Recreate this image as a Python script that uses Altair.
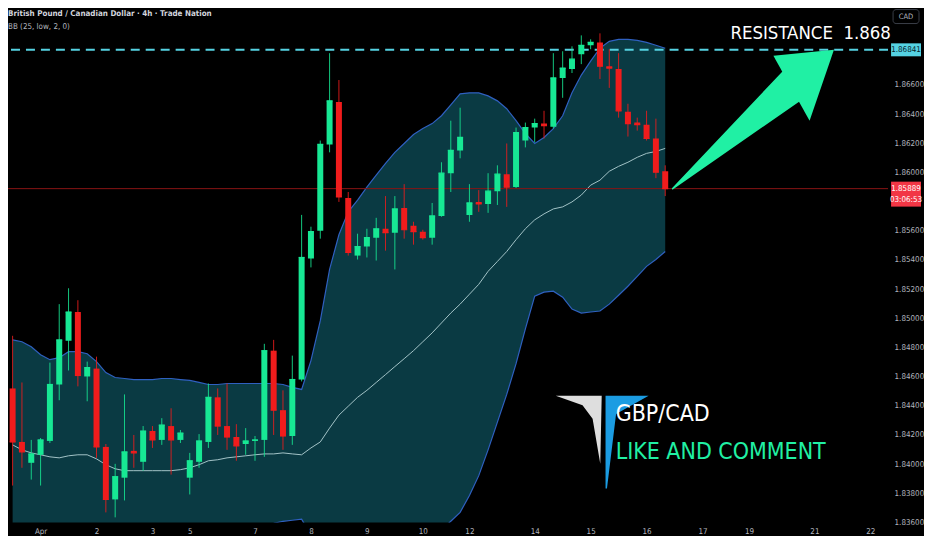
import altair as alt
import pandas as pd

# ---------------- data ----------------
idx = list(range(-3, 68))  # 4h candle number, 0 = first candle of Apr 1
open_ = [1.84519, 1.84152, 1.84009, 1.84064, 1.84159, 1.84546, 1.84846, 1.85043, 1.84601, 1.84655,
         1.84118, 1.83758, 1.83907, 1.84091, 1.84016, 1.84227, 1.84166, 1.84261, 1.84166, 1.83907,
         1.84016, 1.84152, 1.84458, 1.84261, 1.84186, 1.84138, 1.84159, 1.84166, 1.84778, 1.84370,
         1.84193, 1.84580, 1.85410, 1.85600, 1.86192, 1.86484, 1.85825, 1.85430, 1.85492, 1.85553,
         1.85614, 1.85587, 1.85757, 1.85634, 1.85594, 1.85553, 1.85702, 1.85995, 1.86151, 1.85709,
         1.85798, 1.85784, 1.85872, 1.85988, 1.85900, 1.86219, 1.86308, 1.86335, 1.86314, 1.86648,
         1.86709, 1.86811, 1.86872, 1.86892, 1.86729, 1.86709, 1.86416, 1.86342, 1.86328, 1.86233,
         1.86008]
high = [1.84880, 1.84560, 1.84166, 1.84179, 1.84696, 1.85097, 1.85206, 1.85124, 1.84703, 1.84737,
        1.84138, 1.84002, 1.84478, 1.84200, 1.84261, 1.84261, 1.84315, 1.84383, 1.84234, 1.84077,
        1.84206, 1.84553, 1.84519, 1.84553, 1.84274, 1.84247, 1.84193, 1.84825, 1.84852, 1.84506,
        1.84744, 1.85709, 1.85628, 1.86219, 1.86818, 1.86634, 1.85866, 1.85580, 1.85614, 1.85689,
        1.85838, 1.85838, 1.85920, 1.85662, 1.85607, 1.85791, 1.86070, 1.86355, 1.86444, 1.85920,
        1.85879, 1.85995, 1.86049, 1.86199, 1.86308, 1.86342, 1.86369, 1.86423, 1.86818, 1.86831,
        1.86865, 1.86940, 1.86913, 1.86954, 1.86845, 1.86818, 1.86471, 1.86376, 1.86423, 1.86369,
        1.86049]
low = [1.83853, 1.83975, 1.83894, 1.83853, 1.84145, 1.84438, 1.84642, 1.84533, 1.84431, 1.84043,
       1.83669, 1.83635, 1.83751, 1.83975, 1.83955, 1.84111, 1.84132, 1.83928, 1.84145, 1.83792,
       1.83975, 1.84111, 1.84200, 1.84098, 1.84023, 1.84064, 1.84023, 1.84050, 1.84200, 1.84098,
       1.84132, 1.84567, 1.85349, 1.85546, 1.86138, 1.85798, 1.85430, 1.85403, 1.85417, 1.85396,
       1.85464, 1.85335, 1.85546, 1.85505, 1.85539, 1.85505, 1.85696, 1.85866, 1.86097, 1.85662,
       1.85730, 1.85723, 1.85777, 1.85764, 1.85893, 1.86172, 1.86206, 1.86233, 1.86301, 1.86512,
       1.86682, 1.86743, 1.86845, 1.86641, 1.86580, 1.86376, 1.86246, 1.86287, 1.86219, 1.85961,
       1.85838]
close = [1.84152, 1.84084, 1.84070, 1.84166, 1.84546, 1.84852, 1.85043, 1.84608, 1.84662, 1.84118,
         1.83758, 1.83914, 1.84084, 1.84077, 1.84227, 1.84166, 1.84268, 1.84166, 1.84213, 1.84023,
         1.84159, 1.84458, 1.84261, 1.84186, 1.84125, 1.84159, 1.84166, 1.84778, 1.84370, 1.84193,
         1.84580, 1.85417, 1.85594, 1.86192, 1.86491, 1.85832, 1.85451, 1.85492, 1.85553, 1.85614,
         1.85587, 1.85750, 1.85607, 1.85594, 1.85553, 1.85702, 1.85995, 1.86151, 1.86240, 1.85791,
         1.85784, 1.85872, 1.85988, 1.85900, 1.86274, 1.86308, 1.86335, 1.86321, 1.86648, 1.86716,
         1.86777, 1.86872, 1.86892, 1.86729, 1.86716, 1.86423, 1.86335, 1.86328, 1.86233, 1.86002,
         1.85889]
bb_upper = [1.84852, 1.84839, 1.84805, 1.84750, 1.84716, 1.84730, 1.84771, 1.84771, 1.84757, 1.84703,
            1.84628, 1.84594, 1.84587, 1.84580, 1.84580, 1.84580, 1.84587, 1.84587, 1.84580, 1.84574,
            1.84560, 1.84546, 1.84546, 1.84553, 1.84553, 1.84553, 1.84553, 1.84553, 1.84553, 1.84546,
            1.84526, 1.84512, 1.84710, 1.84982, 1.85335, 1.85573, 1.85730, 1.85811, 1.85900, 1.85981,
            1.86063, 1.86138, 1.86199, 1.86260, 1.86301, 1.86335, 1.86389, 1.86464, 1.86539, 1.86546,
            1.86546, 1.86525, 1.86491, 1.86437, 1.86355, 1.86267, 1.86199, 1.86240, 1.86301, 1.86389,
            1.86546, 1.86668, 1.86763, 1.86852, 1.86899, 1.86913, 1.86913, 1.86906, 1.86892, 1.86872,
            1.86852]
bb_basis = [1.84132, 1.84098, 1.84077, 1.84064, 1.84050, 1.84043, 1.84057, 1.84064, 1.84064, 1.84036,
            1.83996, 1.83968, 1.83955, 1.83955, 1.83955, 1.83955, 1.83955, 1.83955, 1.83962, 1.83975,
            1.83996, 1.84023, 1.84030, 1.84043, 1.84050, 1.84057, 1.84064, 1.84070, 1.84070, 1.84077,
            1.84070, 1.84064, 1.84111, 1.84152, 1.84247, 1.84336, 1.84397, 1.84458, 1.84506, 1.84560,
            1.84614, 1.84669, 1.84723, 1.84778, 1.84839, 1.84900, 1.84968, 1.85036, 1.85097, 1.85165,
            1.85233, 1.85322, 1.85390, 1.85458, 1.85539, 1.85614, 1.85675, 1.85716, 1.85750, 1.85764,
            1.85798, 1.85845, 1.85913, 1.85947, 1.86008, 1.86042, 1.86070, 1.86104, 1.86131, 1.86144,
            1.86165]
bb_lower = [1.83411, 1.83356, 1.83350, 1.83377, 1.83384, 1.83356, 1.83343, 1.83356, 1.83370, 1.83370,
            1.83363, 1.83343, 1.83322, 1.83329, 1.83329, 1.83329, 1.83322, 1.83322, 1.83343, 1.83377,
            1.83431, 1.83499, 1.83513, 1.83533, 1.83547, 1.83560, 1.83574, 1.83588, 1.83594, 1.83608,
            1.83615, 1.83622, 1.83513, 1.83322, 1.83159, 1.83098, 1.83064, 1.83105, 1.83112, 1.83139,
            1.83166, 1.83200, 1.83248, 1.83295, 1.83377, 1.83465, 1.83547, 1.83608, 1.83669, 1.83785,
            1.83921, 1.84098, 1.84288, 1.84478, 1.84689, 1.84927, 1.85152, 1.85179, 1.85186, 1.85145,
            1.85063, 1.85036, 1.85043, 1.85050, 1.85097, 1.85158, 1.85220, 1.85288, 1.85356, 1.85403,
            1.85458]

tick_idx = [0, 6, 12, 16, 23, 29, 35, 41, 46, 53, 59, 65, 71, 76, 83, 89]
tick_lbl = ["Apr", "2", "3", "5", "7", "8", "9", "10", "12", "14", "15", "16", "17", "19", "21", "22"]
price_ticks = [1.836, 1.838, 1.840, 1.842, 1.844, 1.846, 1.848, 1.850, 1.852, 1.854,
               1.856, 1.860, 1.862, 1.864, 1.866]

resistance = 1.86841
last_price = close[-1]
countdown = "03:06:53"

# ---------------- styling ----------------
BG = "#000000"
GREEN = "#17e894"
RED = "#f01c1c"
FILL = "#0a3a43"
BLUE = "#2f60c0"
BASIS = "#a3c3c7"
CYAN = "#55d2e2"
ARROW = "#20f0a4"
LABEL = "#b2b5be"
NARROW = "Liberation Sans Narrow, DejaVu Sans Condensed, Roboto, sans-serif"

W, H = 882, 514
xs = alt.Scale(domain=[-2.96, 90.37], nice=False, zero=False)
ys = alt.Scale(domain=[1.8360, 1.87117], nice=False, zero=False)

label_expr = ("[" + ",".join("'%s'" % s for s in tick_lbl) + "][indexof(["
              + ",".join(str(v) for v in tick_idx) + "], datum.value)]")
x_axis = alt.Axis(values=tick_idx, labelExpr=label_expr, labelFlush=False,
                  labelOverlap=False, labelPadding=5)
y_axis = alt.Axis(orient="right", values=price_ticks, format=".5f", labelFlush=False,
                  labelOverlap=False, labelPadding=6)


def X(field="i"):
    return alt.X(f"{field}:Q", scale=xs, axis=x_axis, title=None)


def Y(field):
    return alt.Y(f"{field}:Q", scale=ys, axis=y_axis, title=None)


df = pd.DataFrame({"i": idx, "open": open_, "high": high, "low": low, "close": close,
                   "upper": bb_upper, "basis": bb_basis, "lower": bb_lower})
candle_color = alt.when(alt.datum.close >= alt.datum.open).then(alt.value(GREEN)).otherwise(alt.value(RED))

band = alt.Chart(df).mark_area(color=FILL, opacity=1, clip=True).encode(
    x=X(), y=Y("lower"), y2=alt.Y2("upper"))
upper_line = alt.Chart(df).mark_line(color=BLUE, strokeWidth=1.2, clip=True).encode(x=X(), y=Y("upper"))
lower_line = alt.Chart(df).mark_line(color=BLUE, strokeWidth=1.2, clip=True).encode(x=X(), y=Y("lower"))
basis_line = alt.Chart(df).mark_line(color=BASIS, strokeWidth=1, clip=True).encode(x=X(), y=Y("basis"))

lvl = pd.DataFrame({"p": [resistance], "lbl": [f"{resistance:.5f}"]})
cur = pd.DataFrame({"p": [last_price], "lbl": [f"{last_price:.5f}"], "cd": [countdown]})

price_line = alt.Chart(cur).mark_rule(color="#8a1414", strokeWidth=1, clip=True).encode(y=Y("p"))
res_line = alt.Chart(lvl).mark_rule(color=CYAN, strokeWidth=2, strokeDash=[9, 6], clip=True).encode(y=Y("p"))

wicks = alt.Chart(df).mark_rule(strokeWidth=1, clip=True, opacity=0.85).encode(
    x=X(), y=Y("low"), y2=alt.Y2("high"), color=candle_color)
bodies = alt.Chart(df).transform_calculate(
    lo="min(datum.open, datum.close)", hi="max(datum.open, datum.close)"
).mark_bar(size=6, clip=True, orient="vertical").encode(
    x=X(), y=Y("lo"), y2=alt.Y2("hi"), color=candle_color)
doji = alt.Chart(df).mark_tick(orient="horizontal", size=6, thickness=1.2, clip=True, opacity=1).encode(
    x=X(), y=Y("close"), color=candle_color)

# arrow from the last price up to the resistance level: tapering shaft + triangular head
tail_i, tip_i = 67.8, 85.1
frac = [0.0, 0.76]
widths = [1.5, 35]
shaft = pd.DataFrame({
    "i": [tail_i + f * (tip_i - tail_i) for f in frac],
    "ap": [last_price + f * (resistance - last_price) for f in frac],
    "w": widths,
    "k": list(range(len(frac))),
})
shaft_mark = alt.Chart(shaft).mark_trail(color=ARROW, opacity=1).encode(
    x=X(), y=Y("ap"), size=alt.Size("w:Q", scale=None, legend=None), order=alt.Order("k:Q"))
head = pd.DataFrame({"i": [tip_i], "ap": [resistance]})
HEAD_PATH = "M 0 0 L -0.82 0.08 L -0.33 0.96 Z"
head_mark = alt.Chart(head).mark_point(shape=HEAD_PATH, filled=True, size=21904, color=ARROW,
                                       opacity=1, strokeWidth=0).encode(x=X(), y=Y("ap"))

one = pd.DataFrame({"a": [0]})
LOGO_WHITE = "M -0.96 -0.98 L 0 -0.98 L -0.03 0.44 L -0.19 -0.5 L -0.4 -0.78 Z"
LOGO_BLUE = "M 0.08 -0.98 L 0.98 -0.98 L 0.3 -0.6 L 0.11 0.96 L 0.08 0.96 Z"
logo_w = alt.Chart(one).mark_point(shape=LOGO_WHITE, filled=True, size=9216, color="#dedede",
                                   opacity=1, strokeWidth=0).encode(x=alt.value(595), y=alt.value(434))
logo_b = alt.Chart(one).mark_point(shape=LOGO_BLUE, filled=True, size=9216, color="#1b9ce2",
                                   opacity=1, strokeWidth=0).encode(x=alt.value(595), y=alt.value(434))

txt_pair = alt.Chart(one).mark_text(text="GBP/CAD", font=NARROW, fontSize=23, color="#ffffff",
                                    align="left", baseline="alphabetic").encode(
    x=alt.value(609), y=alt.value(412))
txt_like = alt.Chart(one).mark_text(text="LIKE AND COMMENT", font=NARROW, fontSize=23, color=ARROW,
                                    align="left", baseline="alphabetic").encode(
    x=alt.value(609), y=alt.value(450))
txt_res = alt.Chart(one).mark_text(text="RESISTANCE \u00a01.868", font=NARROW, fontSize=18.5,
                                   color="#ffffff", align="left", baseline="alphabetic").encode(
    x=alt.value(724), y=alt.value(29))
hdr1 = alt.Chart(one).mark_text(text="British Pound / Canadian Dollar \u00b7 4h \u00b7 Trade Nation",
                                font=NARROW, fontSize=8, fontWeight="bold", color="#d1d4dc",
                                align="left", baseline="middle").encode(x=alt.value(0), y=alt.value(4))
hdr2 = alt.Chart(one).mark_text(text="BB (25, low, 2, 0)", font=NARROW, fontSize=8, color=LABEL,
                                align="left", baseline="middle").encode(x=alt.value(0), y=alt.value(17))

# price-scale tags
BOX_X = 900
res_box = alt.Chart(lvl).mark_tick(orient="horizontal", size=30, thickness=13, color=CYAN,
                                   opacity=1).encode(x=alt.value(BOX_X), y=Y("p"))
res_txt = alt.Chart(lvl).mark_text(font=NARROW, fontSize=8, color="#06232a", align="center",
                                   baseline="middle").encode(x=alt.value(BOX_X), y=Y("p"), text="lbl:N")
cur_box = alt.Chart(cur).mark_tick(orient="horizontal", size=30, thickness=25, yOffset=5.5,
                                   color="#f23645", opacity=1).encode(x=alt.value(BOX_X), y=Y("p"))
cur_txt = alt.Chart(cur).mark_text(font=NARROW, fontSize=8, color="#ffffff", align="center",
                                   baseline="middle").encode(x=alt.value(BOX_X), y=Y("p"), text="lbl:N")
cur_cd = alt.Chart(cur).mark_text(font=NARROW, fontSize=8, color="#ffffff", align="center",
                                  baseline="middle", dy=11).encode(x=alt.value(BOX_X), y=Y("p"), text="cd:N")
cad_box = alt.Chart(one).mark_rect(fill=BG, stroke="#3a3e48", strokeWidth=1, cornerRadius=3).encode(
    x=alt.value(887), x2=alt.value(913), y=alt.value(0), y2=alt.value(14))
cad_txt = alt.Chart(one).mark_text(text="CAD", font=NARROW, fontSize=7.5, color=LABEL, align="center",
                                   baseline="middle").encode(x=alt.value(900), y=alt.value(7))

chart = alt.layer(
    band, basis_line, upper_line, lower_line, price_line, res_line,
    wicks, bodies, doji, shaft_mark, head_mark, logo_w, logo_b,
    txt_pair, txt_like, txt_res, hdr1, hdr2,
    res_box, res_txt, cur_box, cur_txt, cur_cd, cad_box, cad_txt,
).properties(
    width=W, height=H, background=BG, padding=0
).configure_view(
    stroke=None
).configure_axis(
    grid=False, domain=False, ticks=False, labelColor=LABEL, labelFont=NARROW, labelFontSize=8
)

chart.save("out.html", embed_options={"renderer": "svg", "actions": False})
